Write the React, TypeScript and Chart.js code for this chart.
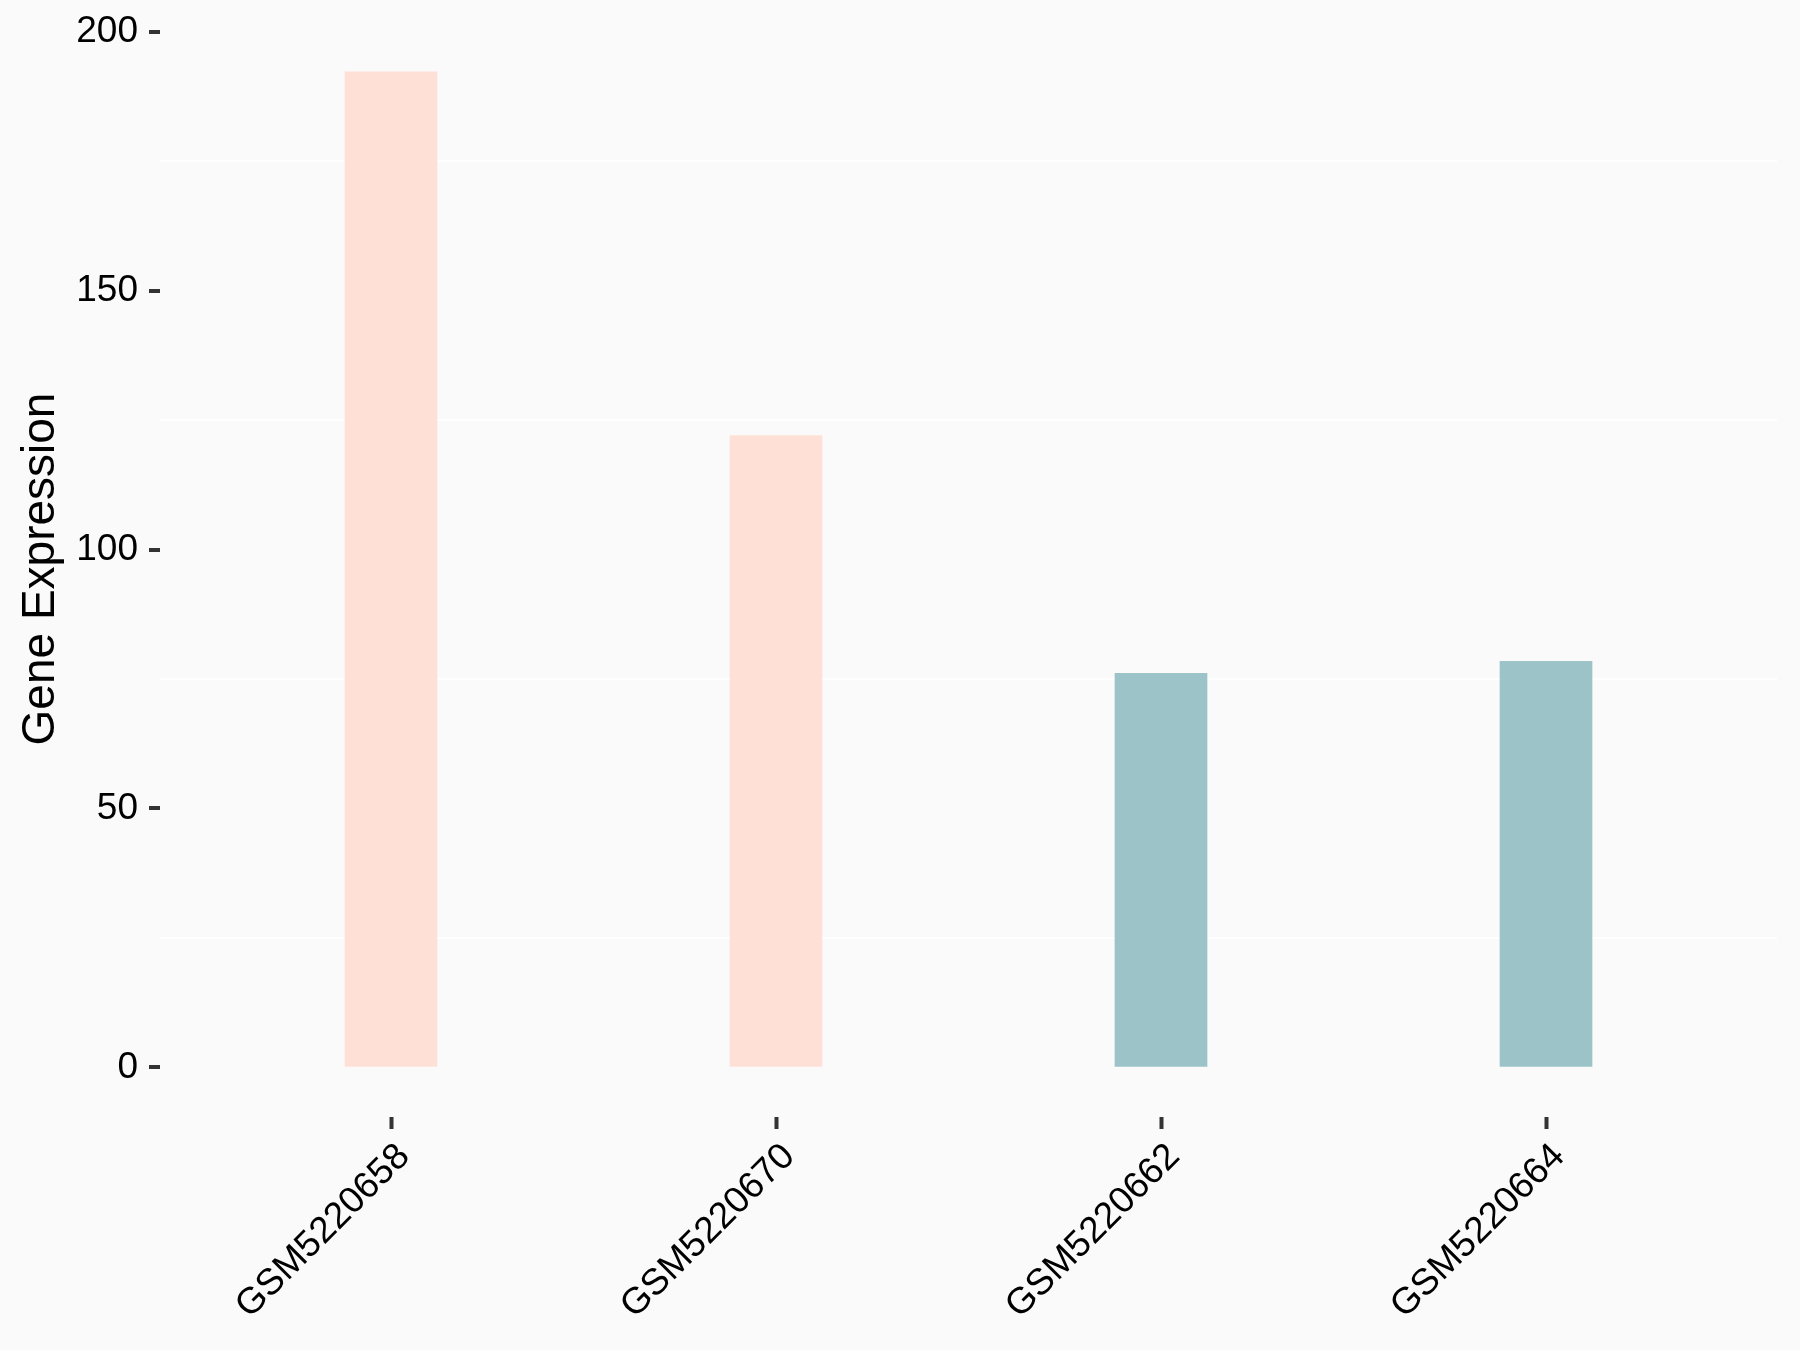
import React, { useEffect, useRef } from "react";
import { Chart, registerables } from "chart.js";

Chart.register(...registerables);

const categories = ["GSM5220658", "GSM5220670", "GSM5220662", "GSM5220664"];
const expression = [192.3, 122.0, 76.1, 78.4];
const groups = ["high", "high", "low", "low"];
const yTickValues = [0, 25, 50, 75, 100, 125, 150, 175, 200];

const groupColors: Record<string, string> = { high: "#FFE0D6", low: "#9CC3C7" };
const FONT = "'Liberation Sans', Arial, sans-serif";

const bgPlugin = {
  id: "bgFill",
  beforeDraw(chart: any) {
    const { ctx, width, height } = chart;
    ctx.save();
    ctx.fillStyle = "#FAFAFA";
    ctx.fillRect(0, 0, width, height);
    ctx.restore();
  },
};

export default function App() {
  const ref = useRef<HTMLCanvasElement | null>(null);
  useEffect(() => {
    document.body.style.margin = "0";
    document.body.style.background = "#FAFAFA";
    const canvas = ref.current!;
    const chart = new Chart(canvas, {
      type: "bar",
      data: {
        datasets: [
          {
            data: expression.map((v, i) => ({ x: i, y: v })),
            backgroundColor: groups.map((g) => groupColors[g]),
            borderWidth: 0,
            barThickness: 92,
          },
        ],
      },
      plugins: [bgPlugin],
      options: {
        responsive: false,
        animation: false,
        layout: { padding: { top: 21, right: 23, left: 0, bottom: 0 } },
        plugins: { legend: { display: false }, tooltip: { enabled: false } },
        scales: {
          x: {
            type: "linear",
            min: -0.6,
            max: 3.6,
            offset: false,
            afterBuildTicks: (scale: any) => {
              scale.ticks = categories.map((_, i) => ({ value: i }));
            },
            afterFit: (scale: any) => {
              scale.height = 233;
              scale.paddingLeft = 0;
              scale.paddingRight = 0;
              scale.paddingTop = 0;
              scale.paddingBottom = 0;
            },
            border: { display: false },
            grid: {
              offset: false,
              drawOnChartArea: false,
              drawTicks: true,
              tickColor: "#333333",
              tickWidth: 4,
              tickLength: 12,
            },
            ticks: {
              autoSkip: false,
              maxRotation: 45,
              minRotation: 45,
              padding: 6,
              labelOffset: 13,
              color: "#000000",
              font: { family: FONT, size: 37 },
              callback: (v: any) => categories[v as number] ?? "",
            },
          },
          y: {
            type: "linear",
            min: -9.6,
            max: 202.1,
            afterBuildTicks: (scale: any) => {
              scale.ticks = yTickValues.map((v) => ({ value: v }));
            },
            afterFit: (scale: any) => {
              scale.width = 160;
              scale.paddingLeft = 0;
              scale.paddingRight = 0;
              scale.paddingTop = 0;
              scale.paddingBottom = 0;
            },
            border: { display: false },
            grid: {
              drawOnChartArea: true,
              drawTicks: true,
              color: (ctx: any) => (ctx.tick && ctx.tick.value % 50 !== 0 ? "#FFFFFF" : "rgba(0,0,0,0)"),
              lineWidth: 2,
              tickColor: (ctx: any) => (ctx.tick && ctx.tick.value % 50 === 0 ? "#333333" : "rgba(0,0,0,0)"),
              tickWidth: 4,
              tickLength: 11,
            },
            ticks: {
              padding: 11,
              color: "#000000",
              font: { family: FONT, size: 37 },
              callback: (v: any) => ((v as number) % 50 === 0 ? String(v) : ""),
            },
            title: {
              display: true,
              text: "Gene Expression",
              color: "#000000",
              font: { family: FONT, size: 46 },
              padding: { top: 14, bottom: 0 },
            },
          },
        },
      },
    });
    return () => chart.destroy();
  }, []);
  return (
    <div style={{ width: 1800, height: 1350 }}>
      <canvas ref={ref} width={1800} height={1350} style={{ display: "block" }} />
    </div>
  );
}
